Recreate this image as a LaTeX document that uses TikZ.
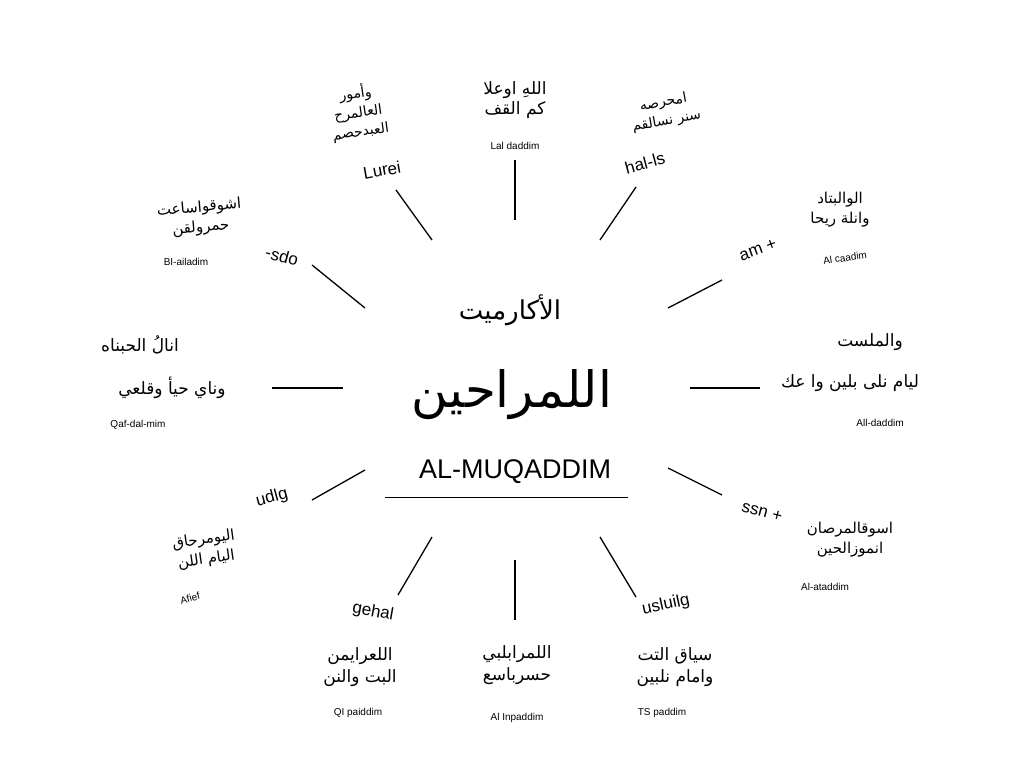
\documentclass[tikz,border=0pt]{standalone}
\usepackage{fontspec}
\setmainfont{Liberation Sans}
\newfontfamily\arabicfont[Script=Arabic]{DejaVu Sans}
\TeXXeTstate=1
\begin{document}
\begin{tikzpicture}[x=1pt,y=-1pt,
  ar/.style={font=\arabicfont\fontsize{17}{22}\selectfont,align=center},
  lat/.style={font=\fontsize{10}{12}\selectfont},
  tag/.style={font=\fontsize{17}{20}\selectfont},
  spoke/.style={line width=1.3pt}]
\useasboundingbox (0,0) rectangle (1024,768);
% centre
\node[ar,font=\arabicfont\fontsize{26}{30}\selectfont] (t1) at (510,310) {\beginR الأكارميت\endR};
\node[ar,font=\arabicfont\fontsize{50}{56}\selectfont] (t2) at (512,395) {\beginR اللمراحين\endR};
\node[font=\fontsize{27}{30}\selectfont] (t3) at (515,472) {AL-MUQADDIM};
\coordinate (u1) at (385,497); \coordinate (u2) at (628,497);
\draw[line width=0.8pt] (u1) -- (u2);
% spokes
\foreach \n/\a/\b in {s1/{515,160}/{515,220}, s2/{396,190}/{432,240}, s3/{636,187}/{600,240},
  s4/{312,265}/{365,308}, s5/{722,280}/{668,308}, s6/{272,388}/{343,388}, s7/{690,388}/{760,388},
  s8/{312,500}/{365,470}, s9/{668,468}/{722,495}, s10/{432,537}/{398,595}, s11/{515,560}/{515,620},
  s12/{600,537}/{636,597}}{
  \coordinate (\n a) at (\a); \coordinate (\n b) at (\b);
  \draw[spoke] (\n a) -- (\n b);}
% top
\node[ar] (a1) at (515,100) {\beginR اللهِ اوعلا\endR\\[-2pt]\beginR كم القف\endR};
\node[lat] (l1) at (515,146) {Lal daddim};
% top-left
\node[ar,rotate=8,font=\arabicfont\fontsize{14}{19}\selectfont] (a2) at (358,112) {\beginR وأمور\endR\\\beginR العالمرح\endR\\\beginR العبدحصم\endR};
\node[tag,rotate=10] (l2) at (382,170) {Lurei};
% top-right
\node[ar,rotate=10,font=\arabicfont\fontsize{14}{19}\selectfont] (a3) at (665,112) {\beginR امحرصه\endR\\\beginR سنر نسالقم\endR};
\node[tag,rotate=15] (l3) at (645,163) {hal-ls};
% upper-left
\node[ar,rotate=5,font=\arabicfont\fontsize{15}{20}\selectfont] (a4) at (200,218) {\beginR اشوقواساعت\endR\\\beginR حمرولقن\endR};
\node[lat] (l4) at (186,262) {BI-ailadim};
\node[tag,rotate=-15] (t4) at (282,256) {-sdo};
% upper-right
\node[ar,font=\arabicfont\fontsize{15}{20}\selectfont] (a5) at (840,210) {\beginR الوالبتاد\endR\\\beginR وانلة ريحا\endR};
\node[lat,rotate=8] (l5) at (845,258) {Al caadim};
\node[tag,rotate=20] (t5) at (758,250) {am +};
% left
\node[ar] (a6) at (140,345) {\beginR انالُ الحبناه\endR};
\node[ar] (a6b) at (172,388) {\beginR وناي حيأ وقلعي\endR};
\node[lat] (l6) at (138,425) {Qaf-dal-mim};
% right
\node[ar] (a7) at (870,342) {\beginR والملست\endR};
\node[ar] (a7b) at (850,383) {\beginR ليام نلى بلين وا عك\endR};
\node[lat] (l7) at (880,423) {All-daddim};
% lower-left
\node[ar,rotate=8,font=\arabicfont\fontsize{15}{20}\selectfont] (a8) at (205,550) {\beginR اليومرحاق\endR\\\beginR اليام اللن\endR};
\node[lat,rotate=15] (l8) at (190,598) {Afief};
\node[tag,rotate=15] (t8) at (272,498) {udlg};
% lower-right
\node[ar,font=\arabicfont\fontsize{15}{20}\selectfont] (a9) at (850,540) {\beginR اسوقالمرصان\endR\\\beginR انموزالحين\endR};
\node[lat] (l9) at (825,587) {Al-ataddim};
\node[tag,rotate=-15] (t9) at (762,512) {ssn +};
% bottom-left
\node[tag,rotate=-10] (t10) at (373,612) {gehal};
\node[ar] (a10) at (360,667) {\beginR اللعرايمن\endR\\\beginR البت والنن\endR};
\node[lat] (l10) at (358,713) {QI paiddim};
% bottom
\node[ar] (a11) at (517,665) {\beginR اللمرابلبي\endR\\\beginR حسرباسع\endR};
\node[lat] (l11) at (517,718) {Al Inpaddim};
% bottom-right
\node[tag,rotate=12] (t12) at (666,605) {usluilg};
\node[ar] (a12) at (675,667) {\beginR سياق التت\endR\\\beginR وامام نلبين\endR};
\node[lat] (l12) at (662,713) {TS paddim};
\end{tikzpicture}
\end{document}
